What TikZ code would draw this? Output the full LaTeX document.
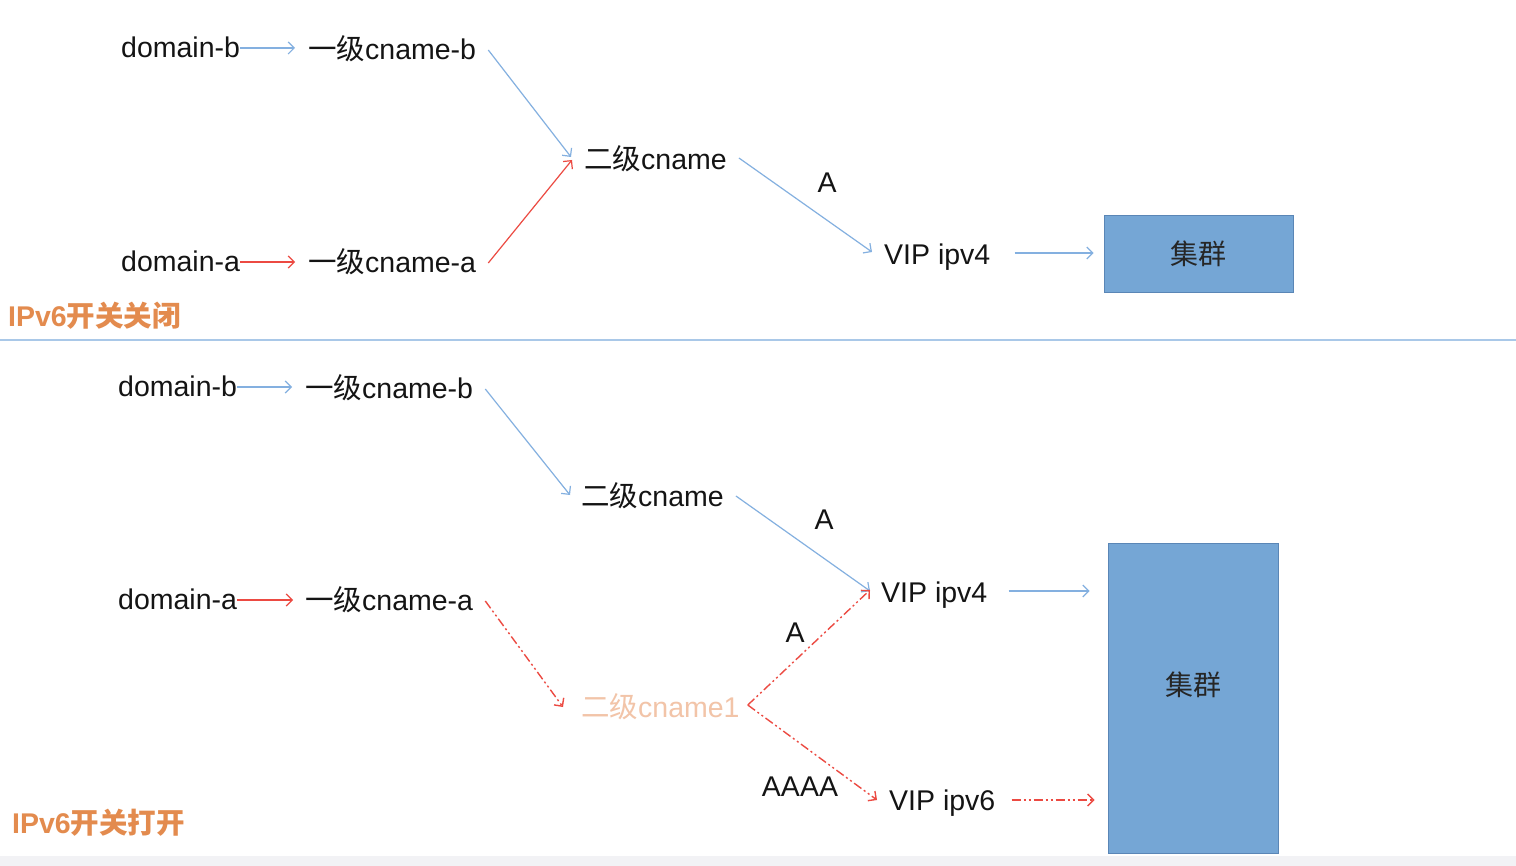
\documentclass[tikz,border=0pt]{standalone}
\usepackage{fontspec}
\setmainfont{Liberation Sans}
\newfontfamily\cjk{Noto Sans CJK SC}
\usetikzlibrary{arrows.meta,calc}
\definecolor{lblue}{HTML}{84B0E0}
\definecolor{lred}{HTML}{EC4A42}
\definecolor{orng}{HTML}{E38B4E}
\definecolor{pale}{HTML}{F2C4A8}
\definecolor{boxfill}{HTML}{75A6D5}
\definecolor{boxline}{HTML}{5A86B6}
\definecolor{sep}{HTML}{A9C8E8}
\definecolor{strip}{HTML}{F2F2F5}
\begin{document}
\begin{tikzpicture}[x=1pt,y=-1pt,
  txt/.style={anchor=west, inner sep=0pt, text height=19pt, text depth=0pt,
    font=\fontsize{28.5}{28.5}\selectfont, text=black!92},
  lbl/.style={inner sep=0pt, font=\fontsize{28.5}{28.5}\selectfont, text=black!92},
  tip/.style={-{Straight Barb[length=6pt,width=12pt]}},
  bl/.style={draw=lblue, line width=1.2pt, tip},
  rd/.style={draw=lred, line width=1.2pt, tip},
  rdd/.style={rd, line width=1.4pt, dash pattern=on 9pt off 3pt on 2pt off 3pt on 2pt off 3pt},
  cluster/.style={draw=boxline, fill=boxfill, line width=0.8pt, inner sep=0pt},
  ctext/.style={font=\cjk\fontsize{28}{28}\selectfont, text=black!85},
  sw/.style={anchor=west, inner sep=0pt, text=orng, font=\bfseries\fontsize{28.5}{28.5}\selectfont}
]
\useasboundingbox (0,0) rectangle (1516,866);
\fill[white] (0,0) rectangle (1516,866);
\fill[strip] (0,856) rectangle (1516,866);

% ---------- top: IPv6 off ----------
\node[txt] (db1) at (121,48) {domain-b};
\node[txt] (cb1) at (308,50) {{\cjk 一级}cname-b};
\node[txt] (c21) at (584,160) {{\cjk 二级}cname};
\node[txt] (da1) at (121,262) {domain-a};
\node[txt] (ca1) at (308,263) {{\cjk 一级}cname-a};
\node[txt] (v41) at (884,255) {VIP ipv4};
\node[lbl] (a1) at (827,183) {A};
\node[cluster, minimum width=189pt, minimum height=77pt] (k1) at (1198.5,253.5) {};
\node[ctext] (k1t) at (k1.center) {集群};
\node[sw] (t1) at (8,316) {IPv6{\cjk 开关关闭}};

\draw[bl, shorten >=13pt] (db1.east) -- (db1.east -| cb1.west);
\draw[bl] ([xshift=12pt]cb1.east) -- ($(c21.west)+(-13,-3)$);
\draw[rd, shorten >=13pt] (da1.east) -- (da1.east -| ca1.west);
\draw[rd] ([xshift=12pt]ca1.east) -- ($(c21.west)+(-12,0)$);
\draw[bl] ($(c21.east)+(12,-2)$) -- ($(v41.west)+(-12,-3)$);
\draw[bl] ($(v41.east)+(24,-2)$) -- ($(v41.east -| k1.west)+(-10,-2)$);

% separator
\draw[sep, line width=1.2pt] (0,340) -- (1516,340);

% ---------- bottom: IPv6 on ----------
\node[txt] (db2) at (118,387) {domain-b};
\node[txt] (cb2) at (305,389) {{\cjk 一级}cname-b};
\node[txt] (c22) at (581,497) {{\cjk 二级}cname};
\node[txt] (v42) at (881,593) {VIP ipv4};
\node[lbl] (a2) at (824,520) {A};
\node[txt] (da2) at (118,600) {domain-a};
\node[txt] (ca2) at (305,601) {{\cjk 一级}cname-a};
\node[txt, text=pale] (c23) at (581,708) {{\cjk 二级}cname1};
\node[lbl] (a3) at (795,633) {A};
\node[lbl] (a4) at (800,787) {AAAA};
\node[txt] (v6) at (889,801) {VIP ipv6};
\node[cluster, minimum width=170pt, minimum height=310pt] (k2) at (1193,698) {};
\node[ctext] (k2t) at (1193,685) {集群};
\node[sw] (t2) at (12,823) {IPv6{\cjk 开关打开}};

\draw[bl, shorten >=13pt] (db2.east) -- (db2.east -| cb2.west);
\draw[bl] ([xshift=12pt]cb2.east) -- ($(c22.west)+(-11,-2)$);
\draw[bl] ($(c22.east)+(12,-1)$) -- ($(v42.west)+(-11,-2)$);
\draw[bl] ($(v42.east)+(21,-2)$) -- ($(v42.east -| k2.west)+(-18,-2)$);
\draw[rd, shorten >=12pt] (da2.east) -- (da2.east -| ca2.west);
\draw[rdd] ([xshift=12pt]ca2.east) -- ($(c23.west)+(-18,-1)$);
\draw[rdd] ($(c23.east)+(8,-3)$) -- ($(v42.west)+(-11,-3)$);
\draw[rdd] ($(c23.east)+(8,-3)$) -- ($(v6.west)+(-12,-1)$);
\draw[rdd] ($(v6.east)+(16,-1)$) -- ($(v6.east -| k2.west)+(-13,-1)$);
\end{tikzpicture}
\end{document}
